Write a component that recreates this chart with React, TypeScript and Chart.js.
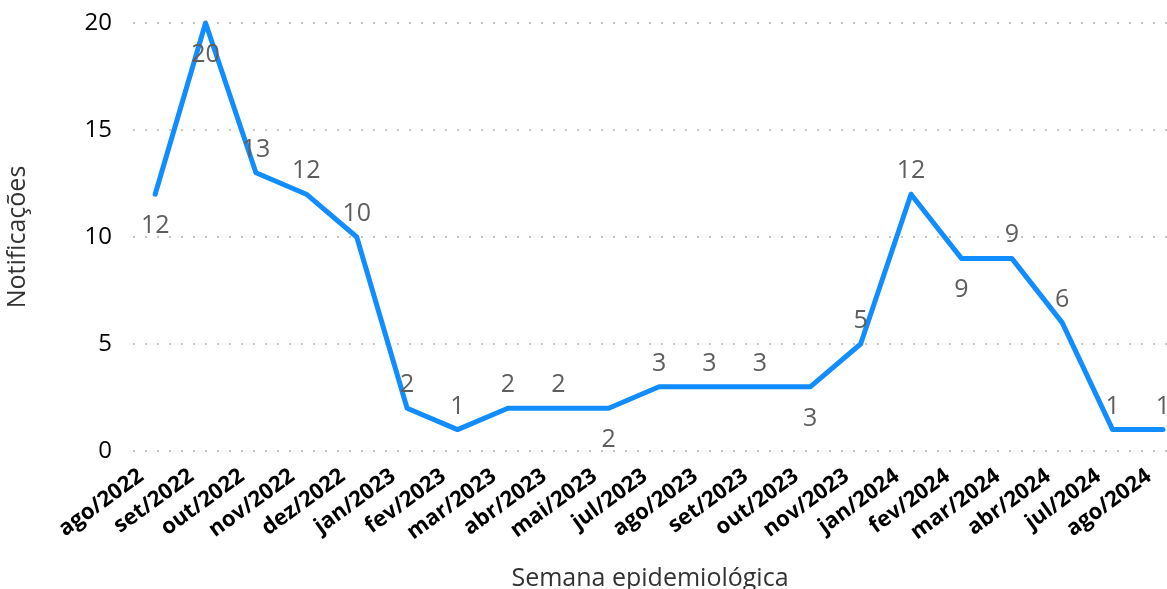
import React, { useEffect, useRef } from "react";
import { Chart, registerables } from "chart.js";

Chart.register(...registerables);

const categories = [
  "ago/2022", "set/2022", "out/2022", "nov/2022", "dez/2022",
  "jan/2023", "fev/2023", "mar/2023", "abr/2023", "mai/2023",
  "jul/2023", "ago/2023", "set/2023", "out/2023", "nov/2023",
  "jan/2024", "fev/2024", "mar/2024", "abr/2024", "jul/2024", "ago/2024",
];
const notificacoes = [12, 20, 13, 12, 10, 2, 1, 2, 2, 2, 3, 3, 3, 3, 5, 12, 9, 9, 6, 1, 1];
const labelPlacement = [
  "below", "below", "above", "above", "above",
  "above", "above", "above", "above", "below",
  "above", "above", "above", "below", "above",
  "above", "below", "above", "above", "above", "above",
];
const yMin = 0;
const yMax = 20;
const yStep = 5;

const FONT = "'Segoe UI', 'Open Sans', 'Noto Sans', sans-serif";

const dataLabelsPlugin = {
  id: "pointValueLabels",
  afterDatasetsDraw(chart: any) {
    const ctx = chart.ctx;
    const meta = chart.getDatasetMeta(0);
    ctx.save();
    ctx.font = `25px ${FONT}`;
    ctx.fillStyle = "#605E5C";
    ctx.textAlign = "center";
    ctx.textBaseline = "alphabetic";
    meta.data.forEach((pt: any, i: number) => {
      const v = notificacoes[i];
      const below = labelPlacement[i] === "below";
      const y = below ? pt.y + 39 : pt.y - 16;
      ctx.fillText(String(v), pt.x, y);
    });
    ctx.restore();
  },
};

export default function App() {
  const canvasRef = useRef<HTMLCanvasElement | null>(null);

  useEffect(() => {
    if (!canvasRef.current) return;
    const chart = new Chart(canvasRef.current, {
      type: "line",
      data: {
        datasets: [
          {
            label: "Notificações",
            data: notificacoes.map((v, i) => ({ x: i, y: v })),
            borderColor: "#118DFF",
            backgroundColor: "#118DFF",
            borderWidth: 5,
            borderJoinStyle: "round",
            borderCapStyle: "round",
            pointRadius: 0,
            pointHoverRadius: 0,
            tension: 0,
            clip: false as any,
          },
        ],
      },
      options: {
        responsive: false,
        animation: false,
        layout: { padding: { top: 23, right: 0, bottom: 0, left: 0 } },
        plugins: {
          legend: { display: false },
          tooltip: { enabled: false },
        },
        scales: {
          x: {
            type: "linear",
            min: -0.44,
            max: 20.08,
            grid: { display: false, drawTicks: false },
            border: { display: false },
            ticks: {
              stepSize: 1,
              includeBounds: false,
              autoSkip: false,
              maxTicksLimit: 40,
              minRotation: 36,
              maxRotation: 36,
              labelOffset: -14,
              padding: 12,
              color: "#000000",
              font: { family: FONT, size: 22, weight: "bold" },
              callback: (v: any) =>
                Number.isInteger(v) && v >= 0 && v < categories.length ? categories[v] : "",
            },
            title: {
              display: true,
              text: "Semana epidemiológica",
              color: "#333333",
              font: { family: FONT, size: 25, lineHeight: 1 },
              padding: { top: 0, bottom: -2 },
            },
            afterFit: (s: any) => {
              s.height = 138;
              s.paddingLeft = 0;
              s.paddingRight = 0;
            },
          },
          y: {
            min: yMin,
            max: yMax,
            grid: { color: "#C8C6C4", lineWidth: 2, drawTicks: false },
            border: { display: false, dash: [2, 10] },
            ticks: {
              stepSize: yStep,
              padding: 21,
              color: "#000000",
              font: { family: FONT, size: 24 },
            },
            title: {
              display: true,
              text: "Notificações",
              color: "#333333",
              font: { family: FONT, size: 25, lineHeight: 1.2 },
              padding: { top: 3, bottom: 0 },
            },
            afterFit: (s: any) => {
              s.width = 133;
              s.paddingTop = 0;
              s.paddingBottom = 0;
            },
          },
        },
      },
      plugins: [dataLabelsPlugin],
    });
    return () => chart.destroy();
  }, []);

  return (
    <canvas
      ref={canvasRef}
      width={1167}
      height={589}
      style={{ position: "absolute", left: 0, top: 0, display: "block" }}
    />
  );
}
